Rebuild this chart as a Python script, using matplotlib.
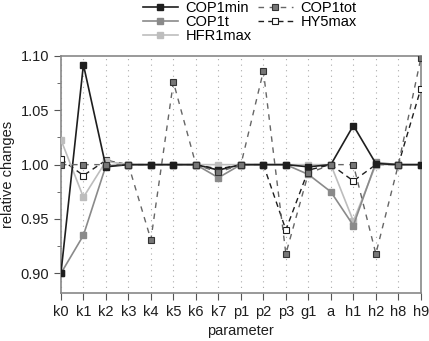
import matplotlib
matplotlib.use("Agg")
import matplotlib.pyplot as plt
from matplotlib.ticker import MultipleLocator

plt.rcParams['font.family'] = ['Liberation Sans', 'DejaVu Sans']

params = ["k0", "k1", "k2", "k3", "k4", "k5", "k6", "k7", "p1", "p2", "p3",
          "g1", "a", "h1", "h2", "h8", "h9"]

cop1min = [0.900, 1.092, 0.998, 1.000, 1.000, 1.000, 1.000, 0.995, 1.000, 1.000, 1.000,
           0.998, 1.000, 1.036, 1.001, 1.000, 1.000]
cop1t = [0.900, 0.935, 0.999, 1.000, 1.000, 1.000, 1.000, 0.988, 1.000, 1.000, 1.000,
         0.991, 0.975, 0.944, 1.002, 1.000, 1.000]
hfr1max = [1.023, 0.970, 1.003, 1.000, 1.000, 1.000, 1.000, 1.000, 1.000, 1.000, 1.000,
           1.000, 1.000, 0.948, 1.000, 1.000, 1.000]
cop1tot = [1.000, 1.000, 1.000, 1.000, 0.931, 1.076, 1.000, 0.993, 1.000, 1.086, 0.918,
           0.992, 1.000, 1.000, 0.918, 1.000, 1.098]
hy5max = [1.005, 0.990, 1.004, 1.000, 1.000, 1.000, 1.000, 0.996, 1.000, 1.000, 0.940,
          0.995, 1.000, 0.985, 1.000, 1.000, 1.070]

fig = plt.figure(figsize=(4.29, 3.41), dpi=100)
ax = fig.add_axes([0.142, 0.141, 0.839, 0.695])

x = list(range(len(params)))
ms = 5
l1, = ax.plot(x, cop1min, '-', color='#1e1e1e', lw=1.2, marker='s', ms=ms,
              mfc='#1e1e1e', mec='#1e1e1e', label='COP1min', zorder=6)
l2, = ax.plot(x, cop1t, '-', color='#8a8a8a', lw=1.2, marker='s', ms=ms,
              mfc='#8a8a8a', mec='#8a8a8a', label='COP1t', zorder=5)
l3, = ax.plot(x, hfr1max, '-', color='#bdbdbd', lw=1.2, marker='s', ms=ms,
              mfc='#bdbdbd', mec='#bdbdbd', label='HFR1max', zorder=4)
l4, = ax.plot(x, cop1tot, '--', color='#666666', lw=1.0, dashes=(4, 4), marker='s', ms=ms,
              mfc='#777777', mec='#333333', mew=0.8, label='COP1tot', zorder=7)
l5, = ax.plot(x, hy5max, '--', color='#1e1e1e', lw=1.0, dashes=(4, 3), marker='s', ms=ms,
              mfc='white', mec='#1e1e1e', mew=0.8, label='HY5max', zorder=3)

ax.set_xlim(0, len(params) - 1)
ax.set_ylim(0.882, 1.10)
ax.set_xticks(x)
ax.set_xticklabels(params)
ax.yaxis.set_major_locator(MultipleLocator(0.05))
ax.yaxis.set_minor_locator(MultipleLocator(0.025))
ax.yaxis.set_major_formatter(matplotlib.ticker.FormatStrFormatter('%.2f'))
ax.grid(axis='x', color='#aaaaaa', linestyle=(0, (1, 4)), lw=0.8)
ax.set_axisbelow(True)
for s in ax.spines.values():
    s.set_color('#888888')
    s.set_linewidth(1.2)
ax.tick_params(axis='both', direction='out', length=5, color='#555555', labelsize=10.5,
               labelcolor='#1e1e1e')
ax.tick_params(axis='y', which='minor', direction='out', length=3, color='#555555')
ax.set_xlabel('parameter', fontsize=10.5, color='#1e1e1e')
ax.set_ylabel('relative changes', fontsize=10.5, color='#1e1e1e')

fig.legend(handles=[l1, l2, l3, l4, l5], loc='upper center', bbox_to_anchor=(0.582, 1.035),
           ncol=2, frameon=False, fontsize=10.5, handlelength=2.4, columnspacing=0.4,
           handletextpad=0.55, labelspacing=0.0)

fig.savefig('out.png', dpi=100)
